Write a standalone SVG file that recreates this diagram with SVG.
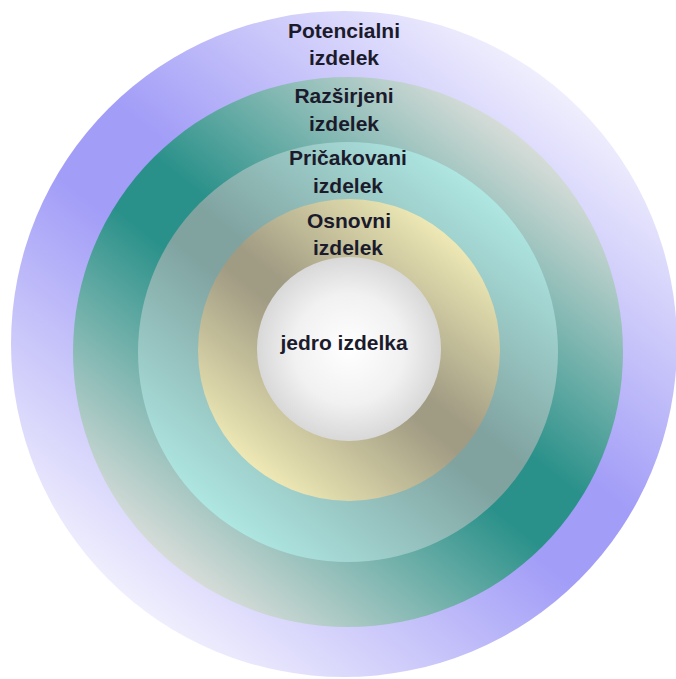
<svg xmlns="http://www.w3.org/2000/svg" width="676" height="679" viewBox="0 0 676 679">
  <defs>
    <linearGradient id="gOuter" x1="0.19" y1="0.89" x2="0.81" y2="0.11">
      <stop offset="0" stop-color="#efeefd"/>
      <stop offset="0.43" stop-color="#a29df7"/>
      <stop offset="0.57" stop-color="#a29df7"/>
      <stop offset="1" stop-color="#efeefd"/>
    </linearGradient>
    <linearGradient id="gTeal" x1="0.19" y1="0.89" x2="0.81" y2="0.11">
      <stop offset="0" stop-color="#d6dcd8"/>
      <stop offset="0.44" stop-color="#2a918a"/>
      <stop offset="0.56" stop-color="#2a918a"/>
      <stop offset="1" stop-color="#d6dcd8"/>
    </linearGradient>
    <linearGradient id="gCyan" x1="0.19" y1="0.89" x2="0.81" y2="0.11">
      <stop offset="0" stop-color="#aee6e2"/>
      <stop offset="0.45" stop-color="#80a3a0"/>
      <stop offset="0.55" stop-color="#80a3a0"/>
      <stop offset="1" stop-color="#aee6e2"/>
    </linearGradient>
    <linearGradient id="gYellow" x1="0.19" y1="0.89" x2="0.81" y2="0.11">
      <stop offset="0" stop-color="#ede8b4"/>
      <stop offset="0.46" stop-color="#a09b83"/>
      <stop offset="0.54" stop-color="#a09b83"/>
      <stop offset="1" stop-color="#ede8b4"/>
    </linearGradient>
    <radialGradient id="gCore" cx="0.5" cy="0.5" r="0.5">
      <stop offset="0" stop-color="#ffffff"/>
      <stop offset="0.6" stop-color="#f1f1f1"/>
      <stop offset="1" stop-color="#d8d8d8"/>
    </radialGradient>
  </defs>
  <style>
    .lbl { font-family: "Liberation Sans", Arial, sans-serif; font-weight: bold; font-size: 21px; fill: #1b1b2c; text-anchor: middle; }
  </style>
  <rect width="676" height="679" fill="#ffffff"/>
  <g id="potencialni">
    <circle cx="344" cy="344" r="333" fill="url(#gOuter)"/>
    <text class="lbl" x="344" y="38">Potencialni</text>
    <text class="lbl" x="344" y="65">izdelek</text>
  </g>
  <g id="razsirjeni">
    <circle cx="348" cy="352" r="275" fill="url(#gTeal)"/>
    <text class="lbl" x="344" y="103">Razširjeni</text>
    <text class="lbl" x="344" y="131">izdelek</text>
  </g>
  <g id="pricakovani">
    <circle cx="348" cy="352" r="210" fill="url(#gCyan)"/>
    <text class="lbl" x="348" y="165">Pričakovani</text>
    <text class="lbl" x="348" y="193">izdelek</text>
  </g>
  <g id="osnovni">
    <circle cx="349" cy="350" r="151" fill="url(#gYellow)"/>
    <text class="lbl" x="349" y="228">Osnovni</text>
    <text class="lbl" x="348" y="255">izdelek</text>
  </g>
  <g id="jedro">
    <circle cx="349" cy="349" r="92" fill="url(#gCore)"/>
    <text class="lbl" x="344" y="350">jedro izdelka</text>
  </g>
  <g id="connectors"></g>
</svg>
